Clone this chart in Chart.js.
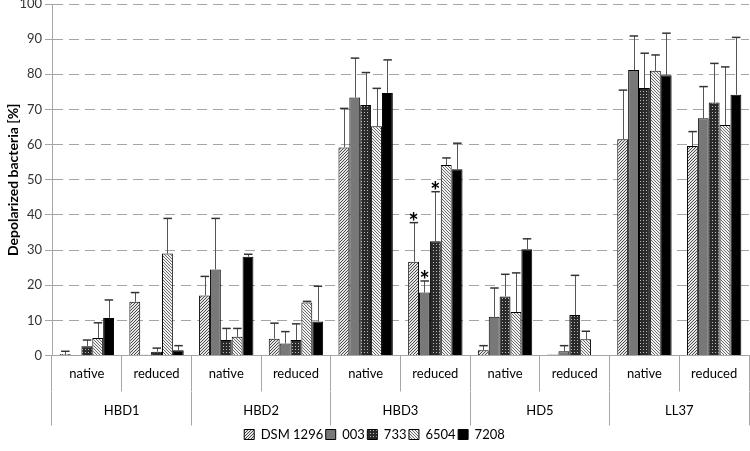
<!DOCTYPE html>
<html>
<head>
<meta charset="utf-8">
<script src="https://cdn.jsdelivr.net/npm/chart.js@4.4.0/dist/chart.umd.min.js"></script>
<style>
  html, body { margin: 0; padding: 0; background: #fff; }
  #wrap { width: 750px; height: 451px; }
</style>
</head>
<body>
<div id="wrap"><canvas id="chart"></canvas></div>
<script>
// categories: native / reduced for each peptide
const categories = ["native", "reduced", "native", "reduced", "native", "reduced", "native", "reduced", "native", "reduced"];
const groups = ["HBD1", "HBD2", "HBD3", "HD5", "LL37"];
const yTicks = [0, 10, 20, 30, 40, 50, 60, 70, 80, 90, 100];

const strains = ["DSM 1296", "003", "733", "6504", "7208"];

const dsm1296 = [0.4, 15.3, 17.1, 4.8, 59.2, 26.7, 1.5, 0.3, 61.5, 59.6];
const s003 = [0.1, 0.2, 24.5, 3.4, 73.4, 17.9, 11.0, 1.2, 81.2, 67.5];
const s733 = [2.6, 1.1, 4.4, 4.4, 71.3, 32.5, 16.8, 11.5, 76.1, 72.0];
const s6504 = [5.0, 29.0, 5.3, 15.1, 65.2, 54.2, 12.4, 4.6, 81.0, 65.6];
const s7208 = [10.7, 1.5, 28.1, 9.7, 74.7, 53.0, 30.2, 0, 79.7, 74.2];

// upper error (SD)
const dsm1296Err = [0.8, 2.6, 5.4, 4.4, 11.1, 11.1, 1.3, 0, 14.0, 4.1];
const s003Err = [0, 0, 14.5, 3.4, 11.2, 3.3, 8.2, 1.6, 9.7, 9.0];
const s733Err = [1.8, 1.0, 3.3, 4.6, 9.2, 14.1, 6.3, 11.3, 9.9, 11.1];
const s6504Err = [4.3, 10.0, 2.4, 0.3, 10.8, 2.0, 11.1, 2.3, 4.5, 16.5];
const s7208Err = [5.1, 1.3, 0.7, 10.0, 9.4, 7.4, 3.0, 0, 12.0, 16.3];

// significance stars: [dataset index, category index]
const stars = [[0, 5], [1, 5], [2, 5]];

const FONT = "Lato, 'Open Sans', sans-serif";
const GRID = "#a6a6a6";

function makePattern(w, h, draw) {
  const c = document.createElement("canvas");
  c.width = w; c.height = h;
  const g = c.getContext("2d");
  draw(g);
  return g.createPattern(c, "repeat");
}

const hatchFwd = makePattern(3, 3, g => {
  g.fillStyle = "#e6e6e6"; g.fillRect(0, 0, 3, 3);
  g.fillStyle = "#4a4a4a";
  for (let i = 0; i < 3; i++) g.fillRect(i, 2 - i, 1, 1);
});
const grayFill = "#787878";
const dotted = makePattern(3, 3, g => {
  g.fillStyle = "#2a2a2a"; g.fillRect(0, 0, 3, 3);
  g.fillStyle = "#bbb"; g.fillRect(1, 1, 1, 1);
});
const hatchBack = makePattern(3, 3, g => {
  g.fillStyle = "#f2f2f2"; g.fillRect(0, 0, 3, 3);
  g.fillStyle = "#6a6a6a";
  for (let i = 0; i < 3; i++) g.fillRect(i, i, 1, 1);
});

const values = [dsm1296, s003, s733, s6504, s7208];
const errors = [dsm1296Err, s003Err, s733Err, s6504Err, s7208Err];
const fills = [hatchFwd, grayFill, dotted, hatchBack, "#000"];

const errorBars = {
  id: "errorBars",
  afterDatasetsDraw(chart) {
    const ctx = chart.ctx;
    const y = chart.scales.y;
    ctx.save();
    chart.data.datasets.forEach((ds, i) => {
      const meta = chart.getDatasetMeta(i);
      meta.data.forEach((bar, j) => {
        const v = ds.data[j];
        const e = errors[i][j];
        const top = y.getPixelForValue(v);
        const ey = y.getPixelForValue(v + e);
        if (e > 0) {
          ctx.strokeStyle = "#555";
          ctx.lineWidth = 1;
          ctx.beginPath();
          ctx.moveTo(Math.round(bar.x) + 0.5, top);
          ctx.lineTo(Math.round(bar.x) + 0.5, ey);
          ctx.stroke();
          ctx.strokeStyle = "#333";
          ctx.lineWidth = 1.5;
          ctx.beginPath();
          ctx.moveTo(bar.x - 4, ey);
          ctx.lineTo(bar.x + 4.5, ey);
          ctx.stroke();
        }
      });
    });
    ctx.fillStyle = "#000";
    ctx.font = "bold 24px " + FONT;
    ctx.textAlign = "center";
    ctx.textBaseline = "alphabetic";
    stars.forEach(([i, j]) => {
      const bar = chart.getDatasetMeta(i).data[j];
      const ey = y.getPixelForValue(values[i][j] + errors[i][j]);
      ctx.fillText("*", bar.x, ey + 8);
    });
    ctx.restore();
  }
};

new Chart(document.getElementById("chart"), {
  type: "bar",
  data: {
    labels: categories,
    datasets: strains.map((name, i) => ({
      label: name,
      data: values[i],
      backgroundColor: fills[i],
      borderColor: "#000",
      borderWidth: 1,
      categoryPercentage: 0.78,
      barPercentage: 1.0
    }))
  },
  options: {
    responsive: true,
    maintainAspectRatio: false,
    animation: false,
    layout: { padding: { top: 1, right: 1, left: 0, bottom: 0 } },
    plugins: {
      tooltip: { enabled: false },
      legend: {
        position: "bottom",
        labels: {
          boxWidth: 10,
          boxHeight: 10,
          padding: 2.5,
          color: "#000",
          font: { family: FONT, size: 13 }
        }
      }
    },
    scales: {
      y: {
        min: 0,
        max: 100,
        afterBuildTicks(s) { s.ticks = yTicks.map(v => ({ value: v })); },
        afterFit(s) { s.width = 52; s.paddingTop = 4; },
        grid: { color: GRID, tickLength: 7, tickBorderDash: [] },
        border: { color: GRID, dash: [10, 6] },
        ticks: { color: "#333", padding: 3, font: { family: FONT, size: 13 } },
        title: {
          display: true,
          text: "Depolarized bacteria [%]",
          color: "#000",
          font: { family: FONT, size: 14, weight: "bold" },
          padding: { top: 5, bottom: 2 }
        }
      },
      x: {
        position: "bottom",
        offset: true,
        afterFit(s) { s.height = 36; },
        grid: { offset: true, drawOnChartArea: false, tickLength: 36, color: GRID },
        border: { color: GRID },
        ticks: { color: "#000", padding: -25, maxRotation: 0, autoSkip: false, font: { family: FONT, size: 13 } }
      },
      x2: {
        type: "category",
        labels: groups,
        position: "bottom",
        weight: 1,
        offset: true,
        afterFit(s) { s.height = 34; },
        grid: { offset: true, drawOnChartArea: false, tickLength: 34, color: GRID },
        border: { display: false },
        ticks: { color: "#000", padding: -22, maxRotation: 0, font: { family: FONT, size: 13 } }
      }
    }
  },
  plugins: [errorBars]
});
</script>
</body>
</html>
